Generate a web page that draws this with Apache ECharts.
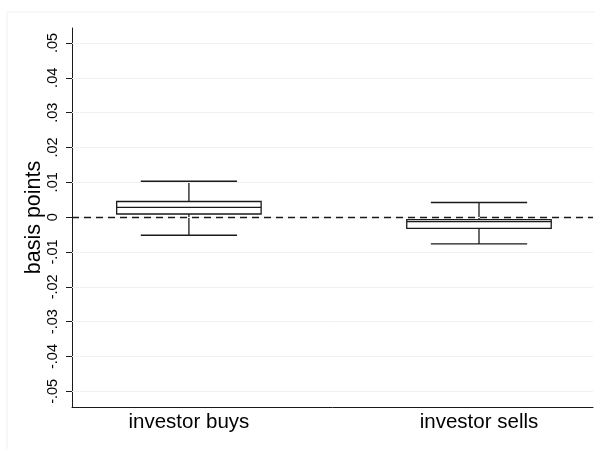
<!DOCTYPE html>
<html>
<head>
<meta charset="utf-8">
<script src="https://cdn.jsdelivr.net/npm/echarts@6/dist/echarts.min.js"></script>
<style>html,body{margin:0;padding:0;background:#fff}#c{width:595px;height:449px}</style>
</head>
<body>
<div id="c"></div>
<script>
var categories = ['investor buys', 'investor sells'];
var positions = [1, 2];
var lowerWhisker = [-0.0052, -0.0077];
var q1 = [0.0009, -0.0032];
var median = [0.0028, -0.0013];
var q3 = [0.0045, -0.0007];
var upperWhisker = [0.0103, 0.0042];
var yTicks = [-0.05, -0.04, -0.03, -0.02, -0.01, 0, 0.01, 0.02, 0.03, 0.04, 0.05];
var yTickLabels = ['-.05', '-.04', '-.03', '-.02', '-.01', '0', '.01', '.02', '.03', '.04', '.05'];
var refLine = 0;

var boxData = positions.map(function (p, i) {
  return [p, lowerWhisker[i], q1[i], median[i], q3[i], upperWhisker[i]];
});

var chart = echarts.init(document.getElementById('c'), null, {renderer: 'canvas'});
var FONT = 'Liberation Sans, Arial, Helvetica, sans-serif';
var INK = '#1a1a1a';
chart.setOption({
  backgroundColor: '#fff',
  animation: false,
  graphic: [
    {type: 'polyline', shape: {points: [[7, 449], [7, 12], [595, 12]]}, style: {stroke: '#efefef', lineWidth: 1, fill: null}, silent: true}
  ],
  grid: {left: 72, right: 2, top: 28, bottom: 42, containLabel: false},
  xAxis: {
    type: 'value', min: 0.597, max: 2.393,
    axisLine: {show: true, onZero: false, lineStyle: {color: INK, width: 1}},
    axisTick: {show: false},
    splitLine: {show: false},
    axisLabel: {
      customValues: positions,
      formatter: function (v) { var i = positions.indexOf(v); return i >= 0 ? categories[i] : ''; },
      color: '#000', fontFamily: FONT, fontSize: 20.5, margin: 5
    }
  },
  yAxis: {
    type: 'value', min: -0.0545, max: 0.0543,
    name: 'basis points', nameLocation: 'middle', nameGap: 27, nameRotate: 90,
    nameMoveOverlap: false,
    nameTextStyle: {color: '#000', fontFamily: FONT, fontSize: 21.5},
    axisLine: {show: true, onZero: false, lineStyle: {color: INK, width: 1}},
    axisTick: {show: true, customValues: yTicks, length: 6, lineStyle: {color: INK}},
    axisLabel: {
      customValues: yTicks, rotate: 90, margin: 12,
      formatter: function (v) {
        for (var i = 0; i < yTicks.length; i++) { if (Math.abs(yTicks[i] - v) < 1e-9) return yTickLabels[i]; }
        return '';
      },
      color: '#000', fontFamily: FONT, fontSize: 14.5
    },
    splitLine: {show: false}
  },
  series: [
    {
      type: 'line', data: [], silent: true,
      markLine: {
        silent: true, symbol: 'none', label: {show: false},
        lineStyle: {color: '#eaf2f3', width: 1, type: 'solid'},
        data: yTicks.map(function (t) { return {yAxis: t}; })
      },
      z: 1
    },
    {
      type: 'custom',
      data: boxData,
      encode: {x: 0, y: [1, 2, 3, 4, 5]},
      z: 3,
      renderItem: function (params, api) {
        var x = api.value(0);
        var halfBox = 0.249, halfCap = 0.166;
        var pLo = api.coord([x, api.value(1)]);
        var pQ1 = api.coord([x, api.value(2)]);
        var pMed = api.coord([x, api.value(3)]);
        var pQ3 = api.coord([x, api.value(4)]);
        var pHi = api.coord([x, api.value(5)]);
        var xl = api.coord([x - halfBox, 0])[0], xr = api.coord([x + halfBox, 0])[0];
        var cl = api.coord([x - halfCap, 0])[0], cr = api.coord([x + halfCap, 0])[0];
        var st = {stroke: INK, lineWidth: 1.3, fill: null};
        return {
          type: 'group',
          children: [
            {type: 'line', shape: {x1: pHi[0], y1: pHi[1], x2: pHi[0], y2: pQ3[1]}, style: st},
            {type: 'line', shape: {x1: pLo[0], y1: pLo[1], x2: pLo[0], y2: pQ1[1]}, style: st},
            {type: 'line', shape: {x1: cl, y1: pHi[1], x2: cr, y2: pHi[1]}, style: st},
            {type: 'line', shape: {x1: cl, y1: pLo[1], x2: cr, y2: pLo[1]}, style: st},
            {type: 'rect', shape: {x: xl, y: pQ3[1], width: xr - xl, height: pQ1[1] - pQ3[1]}, style: {stroke: INK, lineWidth: 1.3, fill: '#fff'}},
            {type: 'line', shape: {x1: xl, y1: pMed[1], x2: xr, y2: pMed[1]}, style: st}
          ]
        };
      }
    },
    {
      type: 'line', data: [], silent: true, z: 5,
      markLine: {
        silent: true, symbol: 'none', label: {show: false},
        lineStyle: {color: INK, width: 1.3, type: [7, 5]},
        data: [{yAxis: refLine}]
      }
    }
  ]
});
</script>
</body>
</html>
